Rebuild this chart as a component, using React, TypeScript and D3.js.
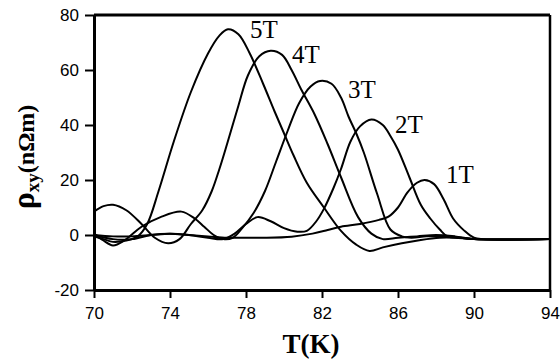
import * as d3 from 'd3'
import { useEffect, useRef } from 'react';

// tick values
const xTicks = [70, 74, 78, 82, 86, 90, 94];
const yTicks = [-20, 0, 20, 40, 60, 80];

// field labels
const fields = ["5T", "4T", "3T", "2T", "1T"];

// rho_xy (nOhm m) vs T (K) as [T, rho]
const rho5T = [[70, -0.5], [70.5, -1.5], [71, -2.5], [71.7, -2], [72.3, -0.5], [72.8, 4], [73.4, 16], [74.2, 34], [75.1, 52], [76, 66], [76.6, 72.5], [77.05, 74.8], [77.6, 73], [78.2, 66], [78.9, 55], [79.5, 45], [80, 37], [80.5, 29], [81.2, 19], [82.1, 10], [83, 1.5], [83.8, -3.5], [84.5, -5.8], [85.2, -4.5], [86.2, -3], [87.2, -1.8], [88.2, -1], [89, -1], [90, -1.5], [94, -1.5]];
const rho4T = [[70, 8.5], [70.5, 10.5], [71, 11], [71.7, 9], [72.5, 4], [73.2, -1], [73.9, -3], [74.5, -1.5], [75.1, 4], [75.7, 9], [76.2, 16], [76.6, 24], [77, 33], [77.6, 47], [78.1, 58], [78.7, 65], [79.3, 67], [79.9, 65.5], [80.4, 60], [80.9, 53], [81.6, 44], [82.3, 33], [83, 21], [83.9, 6.5], [84.6, 0.5], [85.2, -1.5], [86, -1], [87, -0.5], [88, 0], [89, -0.5], [90, -1.5], [94, -1.5]];
const rho3T = [[70, 0.5], [70.5, -2], [71, -3.8], [71.6, -2], [72.5, 3], [73.5, 6.5], [74.6, 8.5], [75.3, 6], [75.8, 3], [76.3, 0], [76.8, -1.5], [77.3, -1], [77.8, 2.5], [78.4, 8], [79, 16], [79.6, 27], [80.2, 38], [80.8, 48], [81.4, 54], [81.9, 56], [82.5, 55], [83, 50], [83.4, 43], [83.8, 37], [84.2, 30], [84.9, 15], [85.6, 2], [86.2, -0.5], [86.7, -1], [87.5, -0.5], [88.5, -0.5], [90, -1.5], [94, -1.5]];
const rho2T = [[70, 0], [71, -1.5], [72, -1.5], [73, 0], [74, 0.5], [75, 0], [76, -1], [76.8, -1.5], [77.4, 0.5], [78, 4], [78.6, 6.5], [79.3, 5], [80, 2.5], [80.7, 1.2], [81.2, 1.5], [81.7, 5], [82.1, 9.5], [82.6, 17], [83, 24], [83.5, 34], [84, 39.5], [84.6, 42], [85.2, 40], [85.6, 36], [86, 31], [86.6, 21], [87.2, 11], [87.7, 6], [88.2, 2], [88.6, -0.5], [89.3, -1], [90, -1.5], [94, -1.5]];
const rho1T = [[70, 0], [71, -0.5], [72, -0.5], [73, 0], [74, 0.5], [75, 0], [76, -0.5], [77, -1], [78, -1], [79, -1], [80.4, -0.6], [81.5, 0.5], [82.3, 1.8], [83, 3], [84, 4], [85, 5.5], [85.5, 6.7], [86, 10], [86.5, 15.5], [87, 19], [87.4, 20], [87.9, 18.5], [88.4, 13], [88.9, 6], [89.5, 1.5], [90, -1], [90.5, -1.5], [94, -1.5]];

const series = [rho5T, rho4T, rho3T, rho2T, rho1T];

function drawChart(el: SVGSVGElement) {
    const svg = d3.select(el);
    svg.selectAll("*").remove();

    const x = d3.scaleLinear().domain([70, 94]).range([94, 550]);
    const y = d3.scaleLinear().domain([-20, 80]).range([290, 15]);

    const line = d3.line<number[]>()
        .x(d => x(d[0]))
        .y(d => y(d[1]))
        .curve(d3.curveCatmullRom.alpha(0.5));

    // curves
    svg.append("g").selectAll("path")
        .data(series)
        .join("path")
        .attr("d", d => line(d))
        .attr("fill", "none")
        .attr("stroke", "#000")
        .attr("stroke-width", 2)
        .attr("stroke-linejoin", "round");

    // frame: top and right
    svg.append("line")
        .attr("x1", x(70)).attr("x2", x(94))
        .attr("y1", y(80)).attr("y2", y(80))
        .attr("stroke", "#000").attr("stroke-width", 3);
    svg.append("line")
        .attr("x1", x(94)).attr("x2", x(94))
        .attr("y1", y(80)).attr("y2", y(-20))
        .attr("stroke", "#000").attr("stroke-width", 2.5);

    const gy = svg.append("g")
        .attr("transform", `translate(${x(70)},0)`)
        .call(d3.axisLeft(y).tickValues(yTicks).tickSize(9).tickSizeOuter(0).tickPadding(6).tickFormat(d => String(d)));
    const gx = svg.append("g")
        .attr("transform", `translate(0,${y(-20)})`)
        .call(d3.axisBottom(x).tickValues(xTicks).tickSize(8).tickSizeOuter(0).tickPadding(9).tickFormat(d => String(d)));

    [gy, gx].forEach(g => {
        g.select(".domain").attr("stroke-width", 3).attr("stroke", "#000");
        g.selectAll(".tick line").attr("stroke-width", 2).attr("stroke", "#000");
        g.selectAll("text")
            .attr("font-family", "'Liberation Sans', Arial, sans-serif")
            .attr("font-size", 17)
            .attr("fill", "#000");
    });

    // curve labels
    const labelXY = [[250, 38], [292, 63], [348, 98], [395, 133], [446, 183]];
    svg.append("g").selectAll("text")
        .data(fields)
        .join("text")
        .attr("x", (d, i) => labelXY[i][0])
        .attr("y", (d, i) => labelXY[i][1])
        .attr("font-family", "'Liberation Serif', 'Times New Roman', serif")
        .attr("font-size", 25)
        .text(d => d);

    // axis titles
    svg.append("text")
        .attr("x", 311).attr("y", 353)
        .attr("text-anchor", "middle")
        .attr("font-family", "'Liberation Serif', 'Times New Roman', serif")
        .attr("font-size", 27)
        .attr("font-weight", "bold")
        .text("T(K)");

    const yl = svg.append("text")
        .attr("transform", "translate(34,157) rotate(-90)")
        .attr("text-anchor", "middle")
        .attr("font-family", "'Liberation Serif', 'Times New Roman', serif")
        .attr("font-weight", "bold");
    yl.append("tspan").attr("font-size", 32).text("ρ");
    yl.append("tspan").attr("font-size", 19).attr("dy", 5).text("xy");
    yl.append("tspan").attr("font-size", 24).attr("dy", -5).text("(nΩm)");
}

function App() {
    const ref = useRef<SVGSVGElement>(null);
    useEffect(() => {
        if (ref.current) drawChart(ref.current);
    }, []);

    return (
        <svg ref={ref} width="560" height="363"
            style={{ position: "absolute", left: 0, top: 0, background: "#fff" }}>
        </svg>
    );
}

export default App;
